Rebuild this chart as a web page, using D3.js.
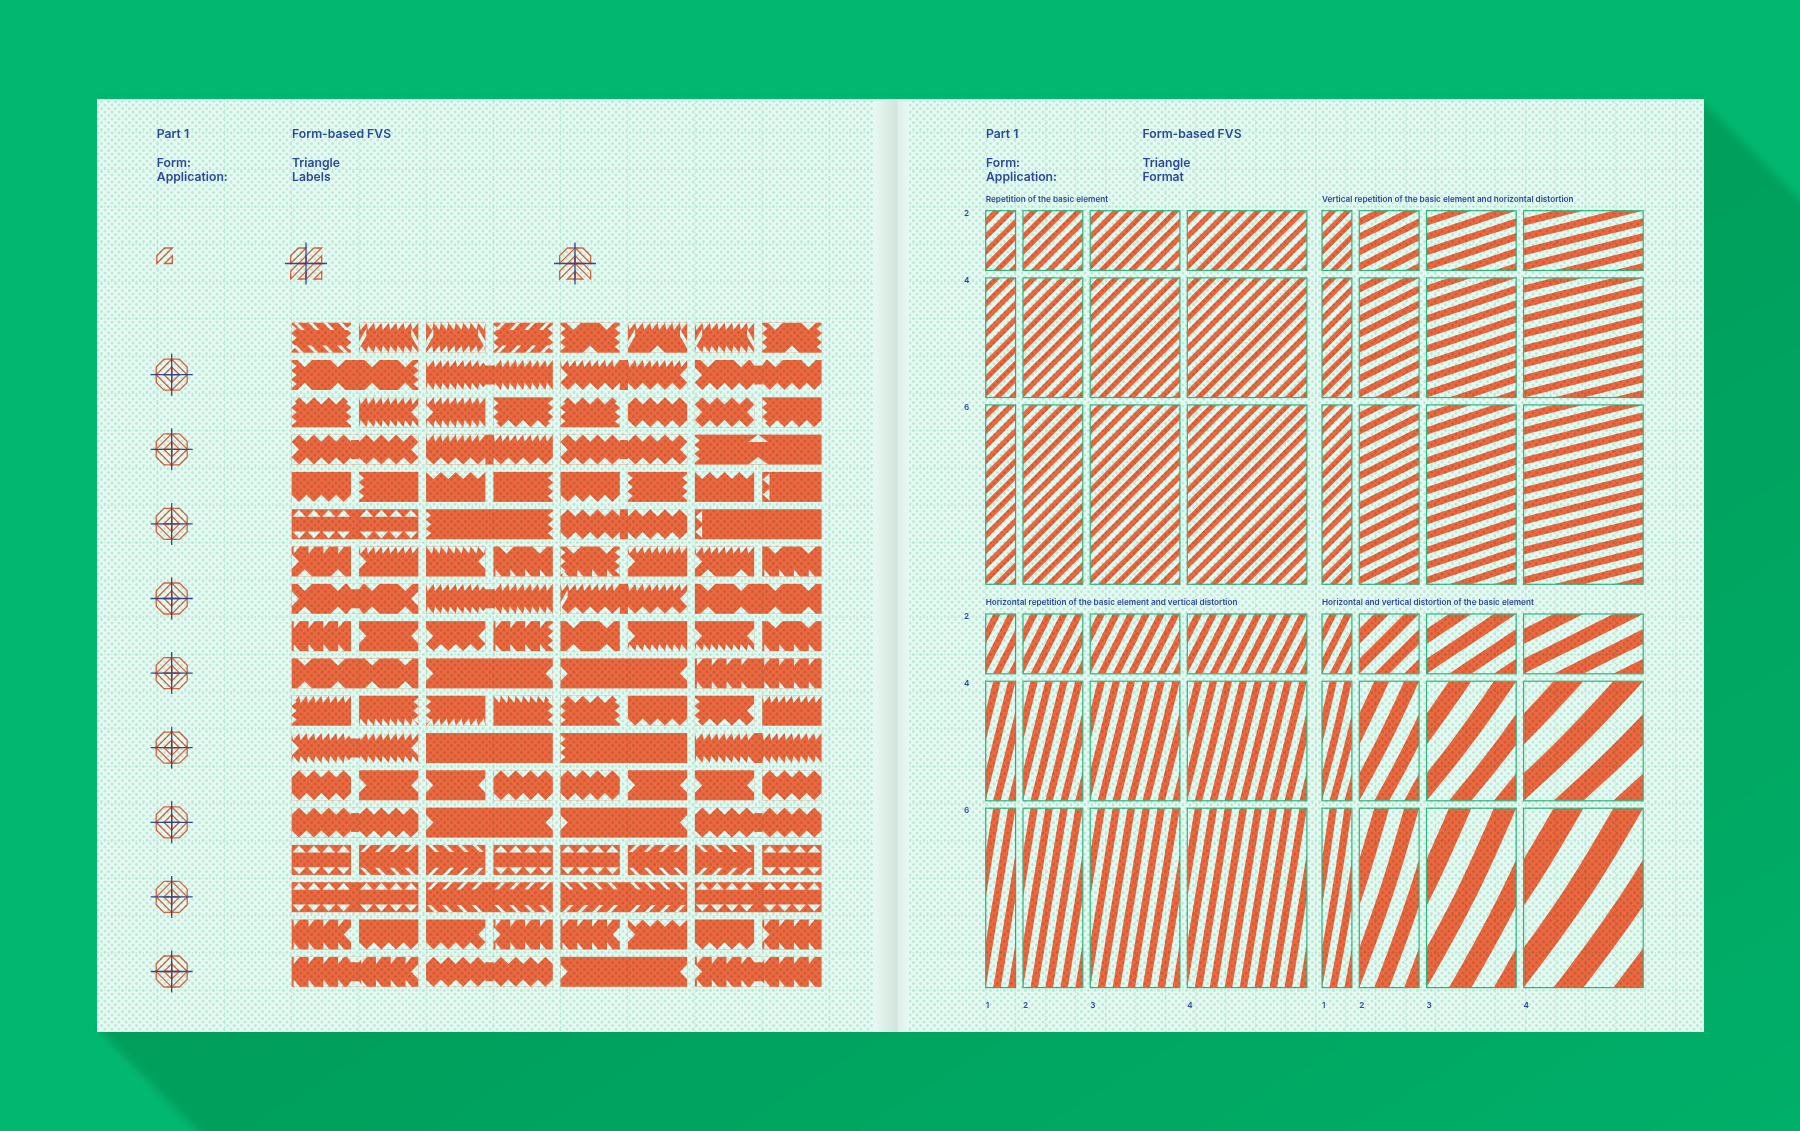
<!DOCTYPE html>
<html>
<head>
<meta charset="utf-8">
<title>Form-based FVS</title>
<script src="https://cdn.jsdelivr.net/npm/d3@7"></script>
<style>
  html, body { margin: 0; padding: 0; background: #02b871; }
  svg { display: block; }
  text { font-family: Inter, "Noto Sans", sans-serif; font-weight: 600; fill: #2f4a9b; }
</style>
</head>
<body>
<div id="chart"></div>
<script>
// left page: one row per line of labels, tokens are top/bottom/left/right edge codes
// 4 letters = one half label, 5 letters = two halves joined (last letter = the joint)
var labelRows = [
  ["khzz","ssxx","bbxx","hkzz","vczz","scxx","ssxx","vczz"],
  ["vvzzf","ssnnd","szccf","vzcnd"],
  ["znzz","ssnc","sscn","nzzz","znzz","zznn","zzcc","nzzn"],
  ["zzccd","sznnf","zzccd","nnznt"],
  ["nznn","nnzn","ynnn","nnnz","nznn","nnzz","ynnn","nnqn"],
  ["ttnnf","nnzzf","zznnf","nnqnf"],
  ["pvcn","sncn","bnnc","vpnn","vpzz","sncn","svcn","vpnn"],
  ["vvccd","ssnnd","szxcf","vvnnf"],
  ["ppnn","nncc","nzcc","ppnz","vvnn","nscn","nscc","vpnn"],
  ["vvnnf","nnccf","nnccf","ppnnf"],
  ["snzn","nsnz","nbzn","bnnz","znzz","nznn","nzzc","snnn"],
  ["ssccd","nnnnf","nnznf","ssnnf"],
  ["zznn","nncc","nncc","zznn","zznn","nncc","nncc","zznn"],
  ["zznnd","nnccf","nnccf","zznnd"],
  ["ttnn","hhnn","kknn","ttnn","ttnn","hhnn","kknn","ttnn"],
  ["ttnnf","hhnnf","kknnf","ttnnf"],
  ["ppnc","nznn","nznc","ppcn","ppnc","yncn","nznn","ppcn"],
  ["ppncd","zznnd","nnccf","ppcnd"]
];
var markerRows = [0, 2, 4, 6, 8, 10, 12, 14, 16];

// right page: cell sizes in units, and how each block stretches the basic element
var colUnits = [1, 2, 3, 4];
var rowUnits = [2, 4, 6];
var blockTitles = [
  "Repetition of the basic element",
  "Vertical repetition of the basic element and horizontal distortion",
  "Horizontal repetition of the basic element and vertical distortion",
  "Horizontal and vertical distortion of the basic element"
];
var blockStretchX = [false, true, false, true];
var blockStretchY = [false, false, true, true];
var blockBend = [[0, 0, 0], [0, 0, 0], [0, 0, 0], [0, 0.03, 0.045]];
var blockLeft = [985.7, 1322, 985.7, 1322];
var blockTop = [210.7, 210.7, 614, 614];

var headerLeft = [["Part 1", "Form-based FVS"], ["Form:", "Triangle"], ["Application:", "Labels"]];
var headerRight = [["Part 1", "Form-based FVS"], ["Form:", "Triangle"], ["Application:", "Format"]];

var W = 1800, H = 1131;
var pageBase = "#e8f9f3", orange = "#f0663f", blue = "#2f4a9b", cellGreen = "#33b583";

var svg = d3.select("#chart").append("svg").attr("width", W).attr("height", H);
var defs = svg.append("defs");

var shadowGrad = defs.append("linearGradient").attr("id", "shadowGrad")
  .attr("x1", 0).attr("y1", 0).attr("x2", 1).attr("y2", 1);
shadowGrad.append("stop").attr("offset", "0.5").attr("stop-color", "#009f5c");
shadowGrad.append("stop").attr("offset", "1").attr("stop-color", "#00b06a");
defs.append("filter").attr("id", "soft").append("feGaussianBlur").attr("stdDeviation", 4);

var foldGrad = defs.append("linearGradient").attr("id", "foldGrad");
foldGrad.append("stop").attr("offset", 0).attr("stop-color", "#fff");
foldGrad.append("stop").attr("offset", 0.66).attr("stop-color", "#e8e9e8");
foldGrad.append("stop").attr("offset", 0.68).attr("stop-color", "#f4f5f4");
foldGrad.append("stop").attr("offset", 1).attr("stop-color", "#fff");

var dots = defs.append("pattern").attr("id", "halftone")
  .attr("width", 7).attr("height", 7).attr("patternUnits", "userSpaceOnUse");
[[0, 0], [7, 0], [0, 7], [7, 7], [3.5, 3.5]].forEach(function(p) {
  dots.append("circle").attr("cx", p[0]).attr("cy", p[1]).attr("r", 1.5).attr("fill", "#ccf2e2");
});

var line = d3.line();

// page and its shadow
svg.append("rect").attr("width", W).attr("height", H).attr("fill", "#02b871");
svg.append("path").attr("fill", "url(#shadowGrad)").attr("filter", "url(#soft)")
  .attr("d", line([[1700, 99], [1830, 229], [1830, 1170], [236, 1170], [97, 1028]]) + "Z");
var pageX = d3.scaleLinear().domain([0, 1]).range([97, 1704]);
var pageY = d3.scaleLinear().domain([0, 1]).range([99, 1032]);
svg.append("rect").attr("x", pageX(0)).attr("y", pageY(0))
  .attr("width", pageX(1) - pageX(0)).attr("height", pageY(1) - pageY(0)).attr("fill", pageBase);

// ---- left page labels ----
var rowY = d3.scaleLinear().domain([0, 1]).range([322.7, 360]);
var groupX = d3.scaleLinear().domain([0, 1]).range([291.7, 426.1]);
var rowH = 30, groupW = 126.7, halfW = 59.3, halfStep = 67.4, depth = 7.2;

function edgeNotches(code, w) {
  var d = depth, out = [], i, x, p;
  function vee(c, hw) {
    out.push([[Math.max(c - hw, 0), 0], [Math.min(c + hw, w), 0], [c, d]]);
  }
  if (code == "z") { for (i = 0; i <= 4; i++) vee(i * w / 4, w / 8); }
  if (code == "y") { for (i = 0; i < 4; i++) vee((i + 0.5) * w / 4, w / 8); }
  if (code == "v") { vee(w * 0.22, w / 8); vee(w * 0.78, w / 8); }
  if (code == "c") { vee(w / 2, w / 8); }
  if (code == "s" || code == "b") {
    p = w / 8;
    for (i = 0; i < 8; i++) {
      x = i * p;
      out.push(code == "s" ? [[x, 0], [x + p, 0], [x + 0.2 * p, d]] : [[x, 0], [x + p, 0], [x + 0.8 * p, d]]);
    }
  }
  if (code == "p" || code == "r") {
    for (i = 0; i < 4; i++) {
      x = i * w / 4;
      out.push(code == "p" ? [[x + 2, 0], [x + 8, 0], [x + 2, d]] : [[x + 6, 0], [x + 12, 0], [x + 12, d]]);
    }
  }
  if (code == "h" || code == "k") {
    for (i = 0; i < 4; i++) {
      x = i * w / 4;
      out.push(code == "h"
        ? [[x + 8, 0], [x + 12, 0], [x + 5, d], [x + 1, d]]
        : [[x + 2, 0], [x + 6, 0], [x + 13, d], [x + 9, d]]);
    }
  }
  if (code == "t") {
    for (i = 0; i < 4; i++) {
      x = (i + 0.5) * w / 4;
      out.push([[x - 6.5, d + 0.4], [x + 6.5, d + 0.4], [x, 0.6]]);
    }
  }
  return out;
}

function sideNotches(code, h) {
  var d = depth, out = [];
  function vee(c, hh, dd) {
    out.push([[0, Math.max(c - hh, 0)], [0, Math.min(c + hh, h)], [dd, c]]);
  }
  if (code == "z") { vee(h * 0.2, 4, 5); vee(h * 0.5, 4, 5); vee(h * 0.8, 4, 5); }
  if (code == "c") { vee(h / 2, h / 4, d); }
  if (code == "q") {
    out.push([[0.6, h * 0.25], [d, h * 0.25 - 6], [d, h * 0.25 + 6]]);
    out.push([[0.6, h * 0.75], [d, h * 0.75 - 6], [d, h * 0.75 + 6]]);
  }
  if (code == "x") { out.push([[0, h * 0.62], [0, h * 0.86], [d, h * 0.44], [d, h * 0.2]]); }
  return out;
}

var labels = svg.append("g").attr("class", "labels");

function drawLabel(x, y, w, token) {
  var g = labels.append("g").attr("transform", "translate(" + x + "," + y + ")");
  g.append("rect").attr("width", w).attr("height", rowH).attr("fill", orange);
  var joined = token.length == 5;
  var cuts = [];
  var runs = joined ? [0, halfStep] : [0];
  runs.forEach(function(off) {
    edgeNotches(token[0], halfW).forEach(function(n) {
      cuts.push(n.map(function(p) { return [p[0] + off, p[1]]; }));
    });
    edgeNotches(token[1], halfW).forEach(function(n) {
      cuts.push(n.map(function(p) { return [p[0] + off, rowH - p[1]]; }));
    });
  });
  sideNotches(token[2], rowH).forEach(function(n) { cuts.push(n); });
  sideNotches(token[3], rowH).forEach(function(n) {
    cuts.push(n.map(function(p) { return [w - p[0], p[1]]; }));
  });
  if (joined && token[4] == "d") {
    var m = w / 2;
    cuts.push([[m - 8, 0], [m + 8, 0], [m + 4, 5.5], [m - 4, 5.5]]);
    cuts.push([[m - 8, rowH], [m + 8, rowH], [m + 4, rowH - 5.5], [m - 4, rowH - 5.5]]);
  }
  if (joined && token[4] == "t") {
    var mt = w / 2;
    cuts.push([[mt - 10, 7.5], [mt + 10, 7.5], [mt, 0]]);
    cuts.push([[mt - 10, rowH], [mt + 10, rowH], [mt, rowH - 7.5]]);
  }
  g.selectAll("path").data(cuts).enter().append("path")
    .attr("d", function(d) { return line(d) + "Z"; })
    .attr("fill", pageBase);
}

labelRows.forEach(function(row, r) {
  row.forEach(function(token, i) {
    if (token.length == 5) {
      drawLabel(groupX(i), rowY(r), groupW, token);
    } else {
      drawLabel(groupX(Math.floor(i / 2)) + (i % 2) * halfStep, rowY(r), halfW, token);
    }
  });
});

// ---- markers ----
var tileW = 15.5, tileH = 15.5;
function drawElement(g, x, y, flipX, flipY) {
  var t = g.append("g").attr("transform",
    "translate(" + (x + (flipX ? tileW : 0)) + "," + (y + (flipY ? tileH : 0)) + ") scale(" + (flipX ? -1 : 1) + "," + (flipY ? -1 : 1) + ")");
  var a = d3.scaleLinear().domain([0, 1]).range([0, tileW]);
  var b = d3.scaleLinear().domain([0, 1]).range([0, tileH]);
  t.append("path").attr("d", line([[a(0), b(1)], [a(0), b(0.5)], [a(0.5), b(0)], [a(1), b(0)]]) + "Z");
  t.append("path").attr("d", line([[a(1), b(0.5)], [a(1), b(1)], [a(0.5), b(1)]]) + "Z");
}
function drawCross(x, y, arm) {
  svg.append("path").attr("fill", "none").attr("stroke", blue).attr("stroke-width", 1.3)
    .attr("d", line([[x - arm, y], [x + arm, y]]) + line([[x, y - arm], [x, y + arm]]));
}
var markers = svg.append("g").attr("fill", "none").attr("stroke", "#e4603c").attr("stroke-width", 1.3);
drawElement(markers, 156.8, 248, false, false);
[[0, 0], [1, 0], [0, 1], [1, 1]].forEach(function(q) {
  drawElement(markers, 290.7 + q[0] * tileW, 248 + q[1] * tileH, false, false);
  drawElement(markers, 559.6 + q[0] * tileW, 248 + q[1] * tileH, q[0] == 1, false);
});
drawCross(306, 263.5, 21);
drawCross(575, 263.5, 21);
markerRows.forEach(function(r) {
  var cy = rowY(r) + 52;
  [[0, 0], [1, 0], [0, 1], [1, 1]].forEach(function(q) {
    drawElement(markers, 171.7 - tileW + q[0] * tileW, cy - tileH + q[1] * tileH, q[0] == 1, q[1] == 1);
  });
  drawCross(171.7, cy, 21);
});

// ---- right page cells ----
var unit = d3.scaleLinear().domain([0, 1]).range([0, 29.9]);
var gap = 7.4;
var cellCount = 0;
var sampleV = d3.range(0, 1.0001, 0.05);

function stripeArea(k, tw, th, ch, bend) {
  // stripes follow x/tw - y/th = const, y measured from the bottom of the cell
  return d3.area()
    .y(function(v) { return ch - v * ch; })
    .x0(function(v) { return (v * ch / th + k / 2 + 0.25 + bend * Math.sin(Math.PI * v)) * tw; })
    .x1(function(v) { return (v * ch / th + k / 2 + 0.5 + bend * Math.sin(Math.PI * v)) * tw; })
    (sampleV);
}

blockTitles.forEach(function(title, b) {
  var x0 = blockLeft[b], y0 = blockTop[b];
  svg.append("text").attr("x", x0).attr("y", y0 - 8.7).attr("font-size", 8.2).text(title);
  var y = y0;
  rowUnits.forEach(function(ru, ri) {
    if (b % 2 == 0) {
      svg.append("text").attr("x", x0 - 21.7).attr("y", y + 5).attr("font-size", 8.2).text(ru);
    }
    var x = x0;
    colUnits.forEach(function(cu) {
      var cw = unit(cu), ch = unit(ru);
      var tw = blockStretchX[b] ? cw : unit(1);
      var th = blockStretchY[b] ? ch : unit(1);
      var id = "cell" + (cellCount++);
      defs.append("clipPath").attr("id", id).append("rect").attr("width", cw).attr("height", ch);
      var g = svg.append("g").attr("transform", "translate(" + x + "," + y + ")");
      var stripes = g.append("g").attr("clip-path", "url(#" + id + ")");
      var kMax = Math.ceil(2 * cw / tw) + 1, kMin = -Math.ceil(2 * ch / th) - 2;
      d3.range(kMin, kMax).forEach(function(k) {
        stripes.append("path").attr("fill", orange).attr("d", stripeArea(k, tw, th, ch, blockBend[b][ri]));
      });
      g.append("rect").attr("width", cw).attr("height", ch)
        .attr("fill", "none").attr("stroke", cellGreen).attr("stroke-width", 1.2);
      if (b >= 2 && ri == 2) {
        svg.append("text").attr("x", x).attr("y", y + ch + 20.3).attr("font-size", 8.2).text(cu);
      }
      x += cw + gap;
    });
    y += unit(ru) + gap;
  });
});

// ---- headers ----
function drawHeader(rows, xa, xb) {
  var ys = [137.7, 166.5, 180.7];
  rows.forEach(function(r, i) {
    svg.append("text").attr("x", xa).attr("y", ys[i]).attr("font-size", 12.2).text(r[0]);
    svg.append("text").attr("x", xb).attr("y", ys[i]).attr("font-size", 12.2).text(r[1]);
  });
}
drawHeader(headerLeft, 156.8, 292);
drawHeader(headerRight, 986, 1142.5);

// ---- print texture on top of everything on the page ----
var over = svg.append("g").style("mix-blend-mode", "multiply");
over.append("rect").attr("x", pageX(0)).attr("y", pageY(0))
  .attr("width", pageX(1) - pageX(0)).attr("height", pageY(1) - pageY(0)).attr("fill", "url(#halftone)");
var gridH = d3.range(-6, 19).map(function(i) { return rowY(i) - 4; });
var gridV = d3.range(-3, 9).map(function(i) { return 291.7 + i * 67.2; }).concat(d3.range(0, 24).map(function(i) { return 985.7 + i * 30; }));
over.selectAll("line.h").data(gridH).enter().append("line")
  .attr("x1", pageX(0)).attr("x2", pageX(1)).attr("y1", function(d) { return d; }).attr("y2", function(d) { return d; })
  .attr("stroke", "#b5e9d2").attr("stroke-width", 0.8).attr("stroke-dasharray", "1.5 2");
over.selectAll("line.v").data(gridV.filter(function(d) { return d > pageX(0) && d < pageX(1); })).enter().append("line")
  .attr("y1", pageY(0)).attr("y2", pageY(1)).attr("x1", function(d) { return d; }).attr("x2", function(d) { return d; })
  .attr("stroke", "#b5e9d2").attr("stroke-width", 0.8).attr("stroke-dasharray", "1.5 2");
over.append("rect").attr("x", 874).attr("y", pageY(0)).attr("width", 35).attr("height", pageY(1) - pageY(0))
  .attr("fill", "url(#foldGrad)");
</script>
</body>
</html>
